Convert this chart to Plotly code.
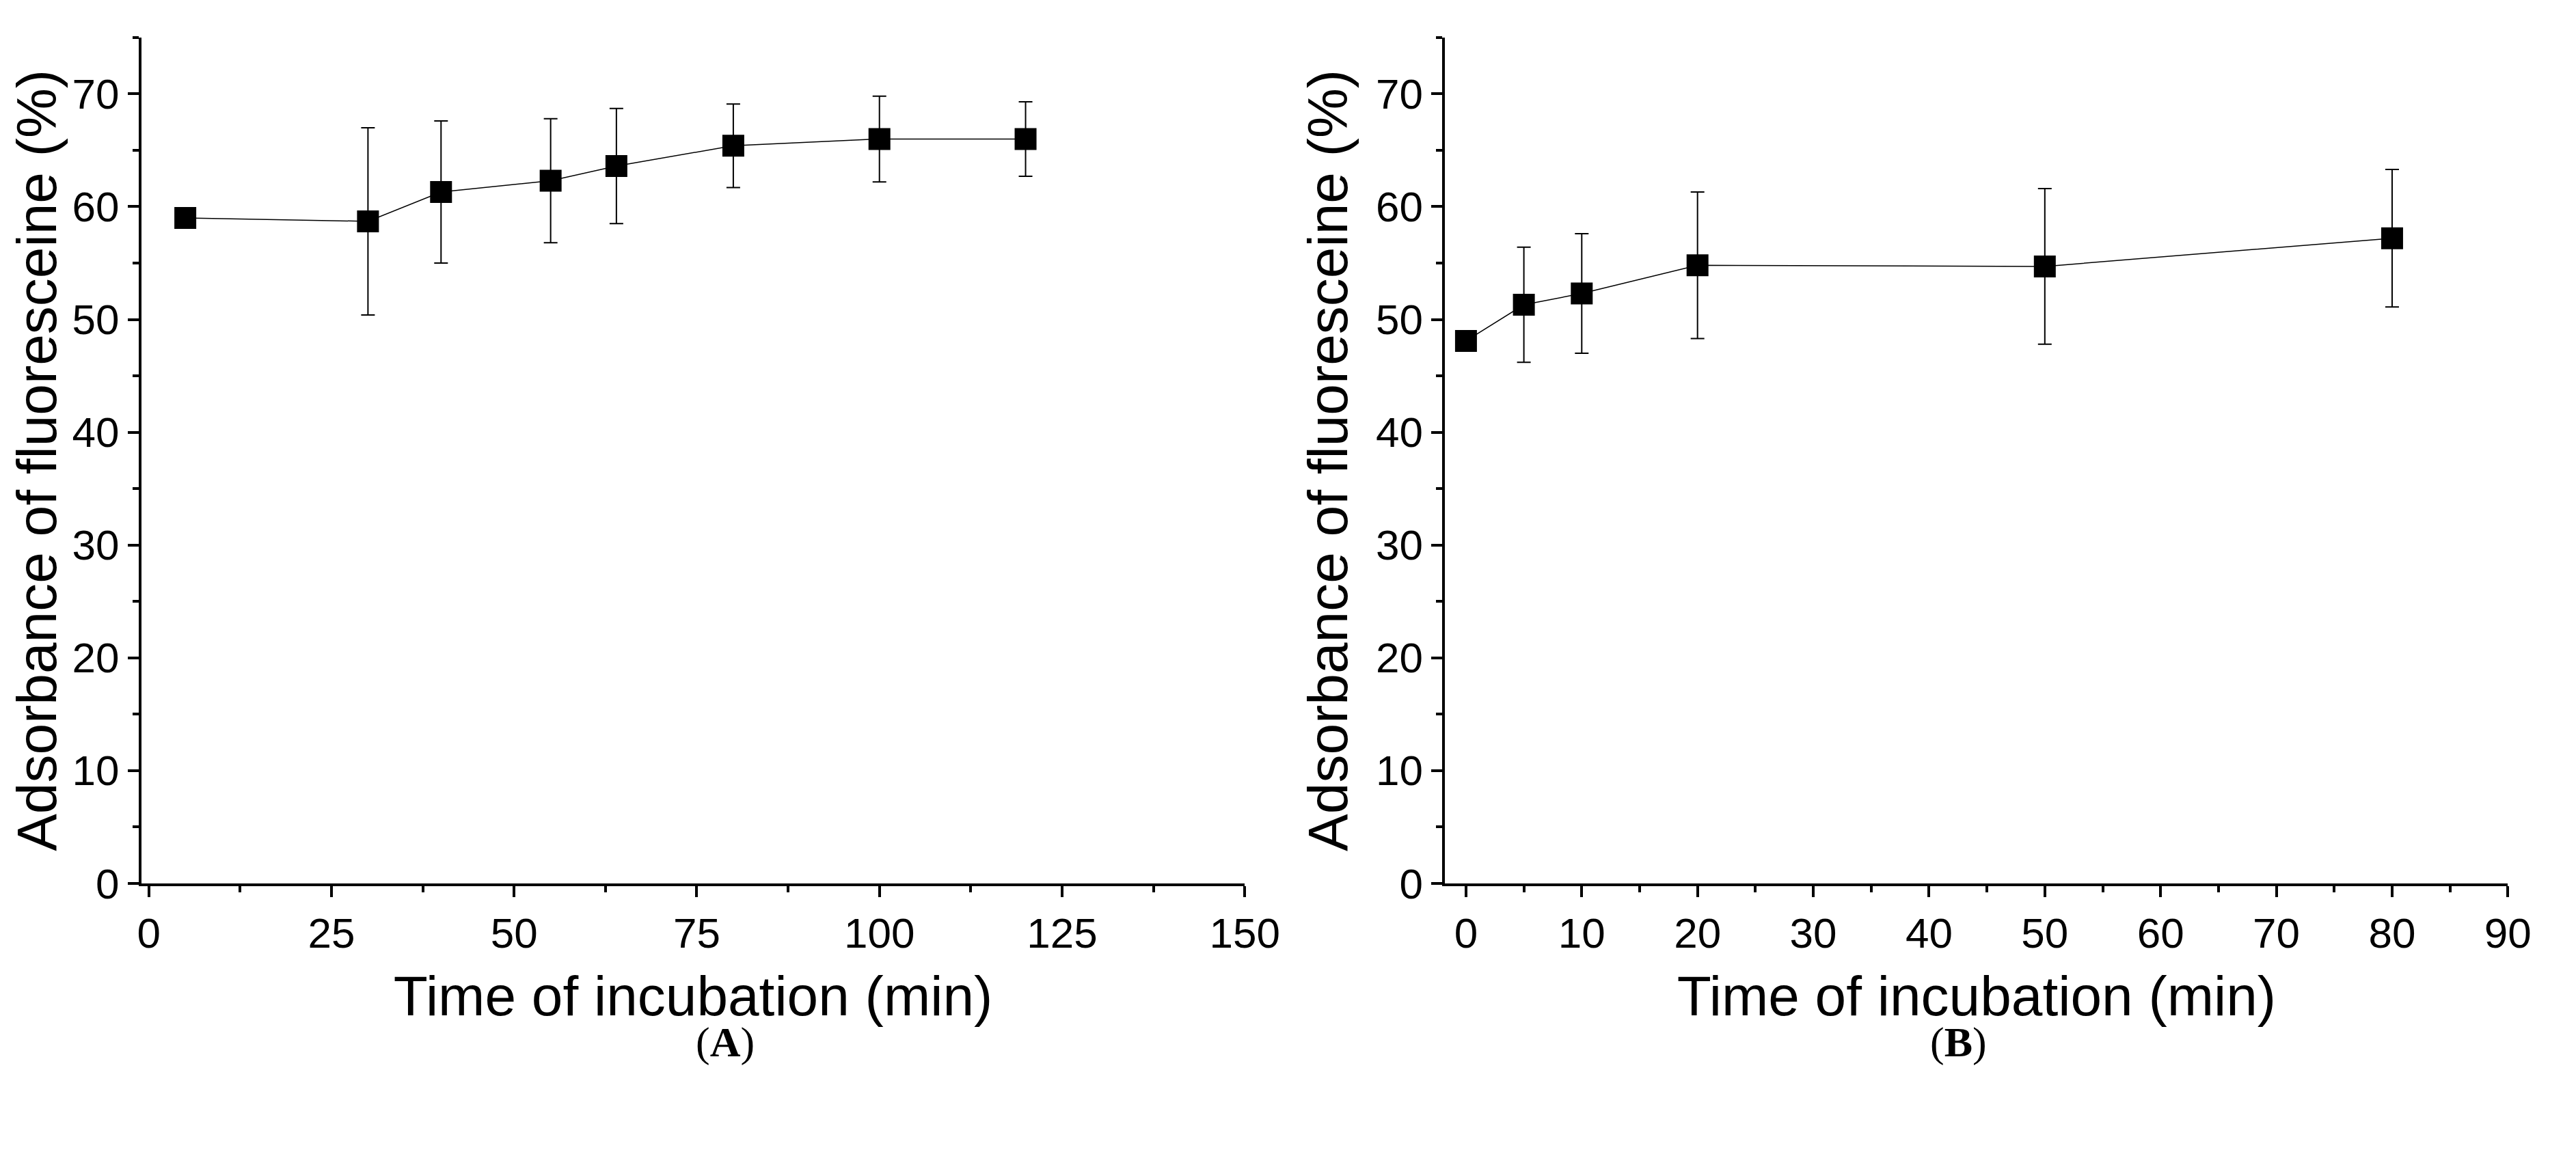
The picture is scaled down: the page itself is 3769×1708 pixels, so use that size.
import plotly.graph_objects as go

# panel A
time_a = [5, 30, 40, 55, 64, 80, 100, 120]
ads_a = [59.0, 58.7, 61.3, 62.3, 63.6, 65.4, 66.0, 66.0]
err_a = [0, 8.3, 6.3, 5.5, 5.1, 3.7, 3.8, 3.3]

# panel B
time_b = [0, 5, 10, 20, 50, 80]
ads_b = [48.1, 51.3, 52.3, 54.8, 54.7, 57.2]
err_b = [0, 5.1, 5.3, 6.5, 6.9, 6.1]

font = "Liberation Sans, Arial, sans-serif"

fig = go.Figure()
for t, a, e, xa, ya in [(time_a, ads_a, err_a, "x", "y"), (time_b, ads_b, err_b, "x2", "y2")]:
    fig.add_trace(go.Scatter(
        x=t, y=a, mode="lines+markers", xaxis=xa, yaxis=ya,
        line=dict(color="black", width=1.5),
        marker=dict(symbol="square", size=32, color="black"),
        error_y=dict(type="data", array=e, color="black", thickness=2, width=10),
        showlegend=False,
    ))

axis_common = dict(
    showline=True, linecolor="black", linewidth=4, ticks="outside", ticklen=16,
    tickwidth=4, tickcolor="black", showgrid=False, zeroline=False,
    tickfont=dict(family=font, size=62, color="black"),
    title_font=dict(family=font, size=82, color="black"),
)
minor = dict(ticks="outside", ticklen=9, tickwidth=4, tickcolor="black", showgrid=False)

fig.update_layout(
    width=3769, height=1708, paper_bgcolor="white", plot_bgcolor="white",
    margin=dict(l=0, r=0, t=0, b=0),
    xaxis=dict(axis_common, domain=[0.052, 0.487], range=[-1, 150], dtick=25,
               minor=dict(minor, dtick=12.5), anchor="y",
               title=dict(text="Time of incubation (min)", standoff=30)),
    yaxis=dict(axis_common, domain=[0.232, 0.972], range=[0, 75], dtick=10,
               minor=dict(minor, dtick=5), anchor="x",
               title=dict(text="Adsorbance of fluoresceine (%)", standoff=15)),
    xaxis2=dict(axis_common, domain=[0.566, 0.985], range=[-1.8, 90], dtick=10,
                minor=dict(minor, dtick=5), anchor="y2",
                title=dict(text="Time of incubation (min)", standoff=30)),
    yaxis2=dict(axis_common, domain=[0.232, 0.972], range=[0, 75], dtick=10,
                minor=dict(minor, dtick=5), anchor="x2",
                title=dict(text="Adsorbance of fluoresceine (%)", standoff=15)),
)

for label, xc in [("(<b>A</b>)", 0.27), ("(<b>B</b>)", 0.78)]:
    fig.add_annotation(text=label, x=xc, y=0.071, xref="paper", yref="paper",
                       showarrow=False, font=dict(family="Liberation Serif, Times New Roman, serif",
                                                  size=62, color="black"))

fig.write_html("out.html")
